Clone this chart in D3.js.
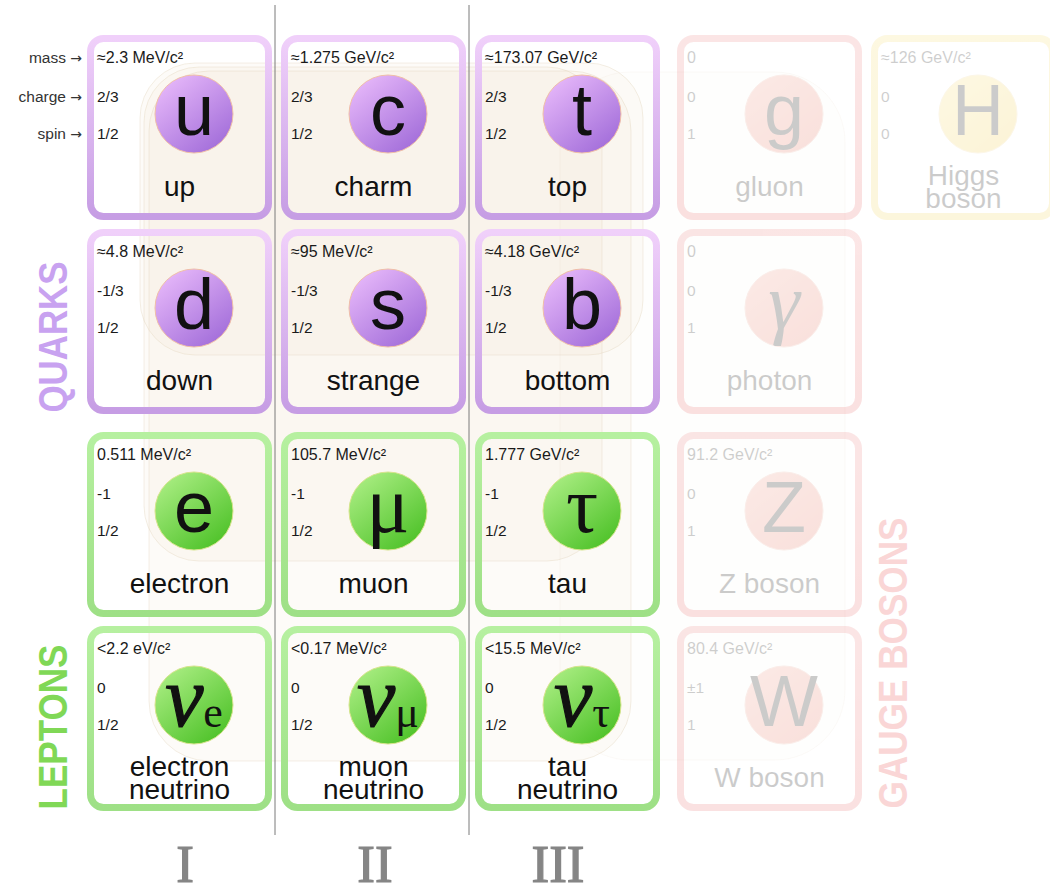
<!DOCTYPE html>
<html>
<head>
<meta charset="utf-8">
<script src="https://cdn.jsdelivr.net/npm/d3@7/dist/d3.min.js"></script>
<style>
  body { margin: 0; background: #fff; }
  svg { display: block; }
</style>
</head>
<body>
<svg id="chart" width="1050" height="889"></svg>
<script>
// particle table
var symbols  = ["u", "c", "t", "g", "H",
                "d", "s", "b", "\u03b3",
                "e", "\u03bc", "\u03c4", "Z",
                "\u03bd", "\u03bd", "\u03bd", "W"];
var subs     = ["", "", "", "", "",
                "", "", "", "",
                "", "", "", "",
                "e", "\u03bc", "\u03c4", ""];
var names    = ["up", "charm", "top", "gluon", "Higgs\nboson",
                "down", "strange", "bottom", "photon",
                "electron", "muon", "tau", "Z boson",
                "electron\nneutrino", "muon\nneutrino", "tau\nneutrino", "W boson"];
var masses   = ["\u22482.3 MeV/c\u00b2", "\u22481.275 GeV/c\u00b2", "\u2248173.07 GeV/c\u00b2", "0", "\u2248126 GeV/c\u00b2",
                "\u22484.8 MeV/c\u00b2", "\u224895 MeV/c\u00b2", "\u22484.18 GeV/c\u00b2", "0",
                "0.511 MeV/c\u00b2", "105.7 MeV/c\u00b2", "1.777 GeV/c\u00b2", "91.2 GeV/c\u00b2",
                "<2.2 eV/c\u00b2", "<0.17 MeV/c\u00b2", "<15.5 MeV/c\u00b2", "80.4 GeV/c\u00b2"];
var charges  = ["2/3", "2/3", "2/3", "0", "0",
                "-1/3", "-1/3", "-1/3", "0",
                "-1", "-1", "-1", "0",
                "0", "0", "0", "\u00b11"];
var spins    = ["1/2", "1/2", "1/2", "1", "0",
                "1/2", "1/2", "1/2", "1",
                "1/2", "1/2", "1/2", "1",
                "1/2", "1/2", "1/2", "1"];
var families = ["quark", "quark", "quark", "gauge", "higgs",
                "quark", "quark", "quark", "gauge",
                "lepton", "lepton", "lepton", "gauge",
                "lepton", "lepton", "lepton", "gauge"];
var colIndex = [0, 1, 2, 3, 4,  0, 1, 2, 3,  0, 1, 2, 3,  0, 1, 2, 3];
var rowIndex = [0, 0, 0, 0, 0,  1, 1, 1, 1,  2, 2, 2, 2,  3, 3, 3, 3];

var generations = ["I", "II", "III"];
var propLabels  = ["mass", "charge", "spin"];
var groupLabels = ["QUARKS", "LEPTONS", "GAUGE BOSONS"];

var particles = symbols.map(function(s, i){
    return {sym: s, sub: subs[i], name: names[i], mass: masses[i], charge: charges[i],
            spin: spins[i], fam: families[i], col: colIndex[i], row: rowIndex[i]};
});

// layout
var cardSize = 185, border = 7;
var x = d3.scaleOrdinal().domain([0, 1, 2, 3, 4]).range([87, 281, 475, 677, 871]);
var y = d3.scaleOrdinal().domain([0, 1, 2, 3]).range([35, 229, 432, 626]);
var numeralX = d3.scaleOrdinal().domain(generations).range([185, 375, 558]);
var propY = d3.scaleOrdinal().domain(propLabels).range([28, 67, 104]); // baselines inside a card

var style = {
    quark:  {b0: "#f0d0fa", b1: "#c69de4", c0: "#eec0fd", c1: "#a16cd9", ring: "#f0bfa8", fade: 1},
    lepton: {b0: "#b6f0a0", b1: "#9ee086", c0: "#b4f28c", c1: "#4cc127", ring: "#d6e48c", fade: 1},
    gauge:  {b0: "#ef8a8a", b1: "#ec7474", c0: "#f4a293", c1: "#ea7766", ring: "#f0b0a0", fade: 0.21},
    higgs:  {b0: "#f6df74", b1: "#f3d660", c0: "#f9e27e", c1: "#f2cc48", ring: "#f4d890", fade: 0.21}
};

var sans = "'Liberation Sans', Arial, sans-serif";
var serif = "'Liberation Serif', 'Times New Roman', serif";

var svg = d3.select("#chart");
var defs = svg.append("defs");

function gradient(id, c0, c1, x2, y2){
    var g = defs.append("linearGradient").attr("id", id)
        .attr("x1", 0).attr("y1", 0).attr("x2", x2).attr("y2", y2);
    g.append("stop").attr("offset", 0).attr("stop-color", c0);
    g.append("stop").attr("offset", 1).attr("stop-color", c1);
}
Object.keys(style).forEach(function(k){
    gradient("border-" + k, style[k].b0, style[k].b1, 0, 1);
    gradient("ball-" + k, style[k].c0, style[k].c1, 0.8, 1);
});

// faint beige interaction loops behind everything
var loops = [
    {x: 140, y: 63, w: 503, h: 292, r: 55},
    {x: 144, y: 67, w: 458, h: 494, r: 55},
    {x: 149, y: 71, w: 482, h: 690, r: 60},
    {x: 560, y: 72, w: 285, h: 688, r: 70}
];
svg.append("g").selectAll("rect").data(loops).enter().append("rect")
    .attr("x", function(d){ return d.x; })
    .attr("y", function(d){ return d.y; })
    .attr("width", function(d){ return d.w; })
    .attr("height", function(d){ return d.h; })
    .attr("rx", function(d){ return d.r; })
    .attr("fill", function(d, i){ return i < 3 ? "rgba(236,222,194,0.11)" : "rgba(236,222,194,0.03)"; })
    .attr("stroke", function(d, i){ return i < 3 ? "rgba(215,196,165,0.28)" : "rgba(215,196,165,0.08)"; })
    .attr("stroke-width", 1);

// generation separators
svg.append("g").selectAll("line").data([1, 2]).enter().append("line")
    .attr("x1", function(d){ return x(d) - 6; })
    .attr("x2", function(d){ return x(d) - 6; })
    .attr("y1", 5).attr("y2", 835)
    .attr("stroke", "#7a7a7a").attr("stroke-width", 1);

// cards
var cards = svg.append("g").selectAll("g.card").data(particles).enter().append("g")
    .attr("class", "card")
    .attr("transform", function(d){ return "translate(" + x(d.col) + "," + y(d.row) + ")"; })
    .attr("opacity", function(d){ return style[d.fam].fade; });

cards.append("rect")
    .attr("x", border / 2).attr("y", border / 2)
    .attr("width", cardSize - border).attr("height", cardSize - border)
    .attr("rx", 13)
    .attr("fill", "none")
    .attr("stroke", function(d){ return "url(#border-" + d.fam + ")"; })
    .attr("stroke-width", border);

var cx = 107, cy = 79, rBall = 39;
cards.append("circle")
    .attr("cx", cx).attr("cy", cy).attr("r", rBall)
    .attr("fill", function(d){ return "url(#ball-" + d.fam + ")"; })
    .attr("stroke", function(d){ return style[d.fam].ring; })
    .attr("stroke-width", 1);

// mass / charge / spin
propLabels.forEach(function(p){
    cards.append("text")
        .attr("x", 10).attr("y", propY(p))
        .attr("font-family", sans)
        .attr("font-size", p == "mass" ? 16 : 15.5)
        .attr("fill", "#1a1a1a")
        .text(function(d){ return d[p]; });
});

// symbol
var greek = /[\u0370-\u03ff]/;
var sym = cards.append("text")
    .attr("x", cx).attr("y", cy + 21)
    .attr("text-anchor", "middle")
    .attr("fill", "#111");
sym.append("tspan")
    .attr("font-family", function(d){ return greek.test(d.sym) ? serif : sans; })
    .attr("font-style", function(d){ return (d.sym == "\u03bd" || d.sym == "\u03b3") ? "italic" : "normal"; })
    .attr("font-size", function(d){ return d.sym == "\u03bd" ? 86 : greek.test(d.sym) ? 80 : 72; })
    .attr("stroke", function(d){ return d.sym == "\u03bd" ? "#111" : "none"; })
    .attr("stroke-width", 1.2)
    .text(function(d){ return d.sym; });
sym.filter(function(d){ return d.sub; }).append("tspan")
    .attr("font-family", serif)
    .attr("font-size", 44)
    .attr("dy", 1)
    .text(function(d){ return d.sub; });

// name, one or two lines
cards.each(function(d){
    var lines = d.name.split("\n");
    var base = lines.length == 1 ? 161 : 150;
    d3.select(this).selectAll("text.name").data(lines).enter().append("text")
        .attr("class", "name")
        .attr("x", cardSize / 2)
        .attr("y", function(l, i){ return base + i * 22.5; })
        .attr("text-anchor", "middle")
        .attr("font-family", sans)
        .attr("font-size", 28)
        .attr("fill", "#111")
        .text(function(l){ return l; });
});

// property legend at the left
var legend = svg.append("g").selectAll("text").data(propLabels).enter().append("text")
    .attr("x", 82).attr("y", function(p){ return y(0) + propY(p); })
    .attr("text-anchor", "end")
    .attr("font-family", sans).attr("font-size", 15.5)
    .attr("fill", "#333");
legend.append("tspan").text(function(p){ return p + " "; });
legend.append("tspan").attr("font-family", "'DejaVu Sans', sans-serif").attr("font-size", 14)
    .text("\u2192");

// group labels, rotated
var groupPos = [
    {cx: 67, cy: 337, len: 151, fill: "#c8a2f0"},
    {cx: 67, cy: 727, len: 165, fill: "#80d856"},
    {cx: 907, cy: 663, len: 291, fill: "#fad6d6"}
];
svg.append("g").selectAll("text").data(groupLabels).enter().append("text")
    .attr("transform", function(l, i){ return "translate(" + groupPos[i].cx + "," + groupPos[i].cy + ") rotate(-90)"; })
    .attr("text-anchor", "middle")
    .attr("font-family", sans).attr("font-weight", "bold")
    .attr("font-size", 40)
    .attr("textLength", function(l, i){ return groupPos[i].len; })
    .attr("lengthAdjust", "spacingAndGlyphs")
    .attr("fill", function(l, i){ return groupPos[i].fill; })
    .text(function(l){ return l; });

// generation numerals
svg.append("g").selectAll("text").data(generations).enter().append("text")
    .attr("x", function(g){ return numeralX(g); })
    .attr("y", 882)
    .attr("text-anchor", "middle")
    .attr("font-family", serif).attr("font-size", 53)
    .attr("fill", "#858585")
    .attr("stroke", "#858585").attr("stroke-width", 1.2)
    .text(function(g){ return g; });
</script>
</body>
</html>
